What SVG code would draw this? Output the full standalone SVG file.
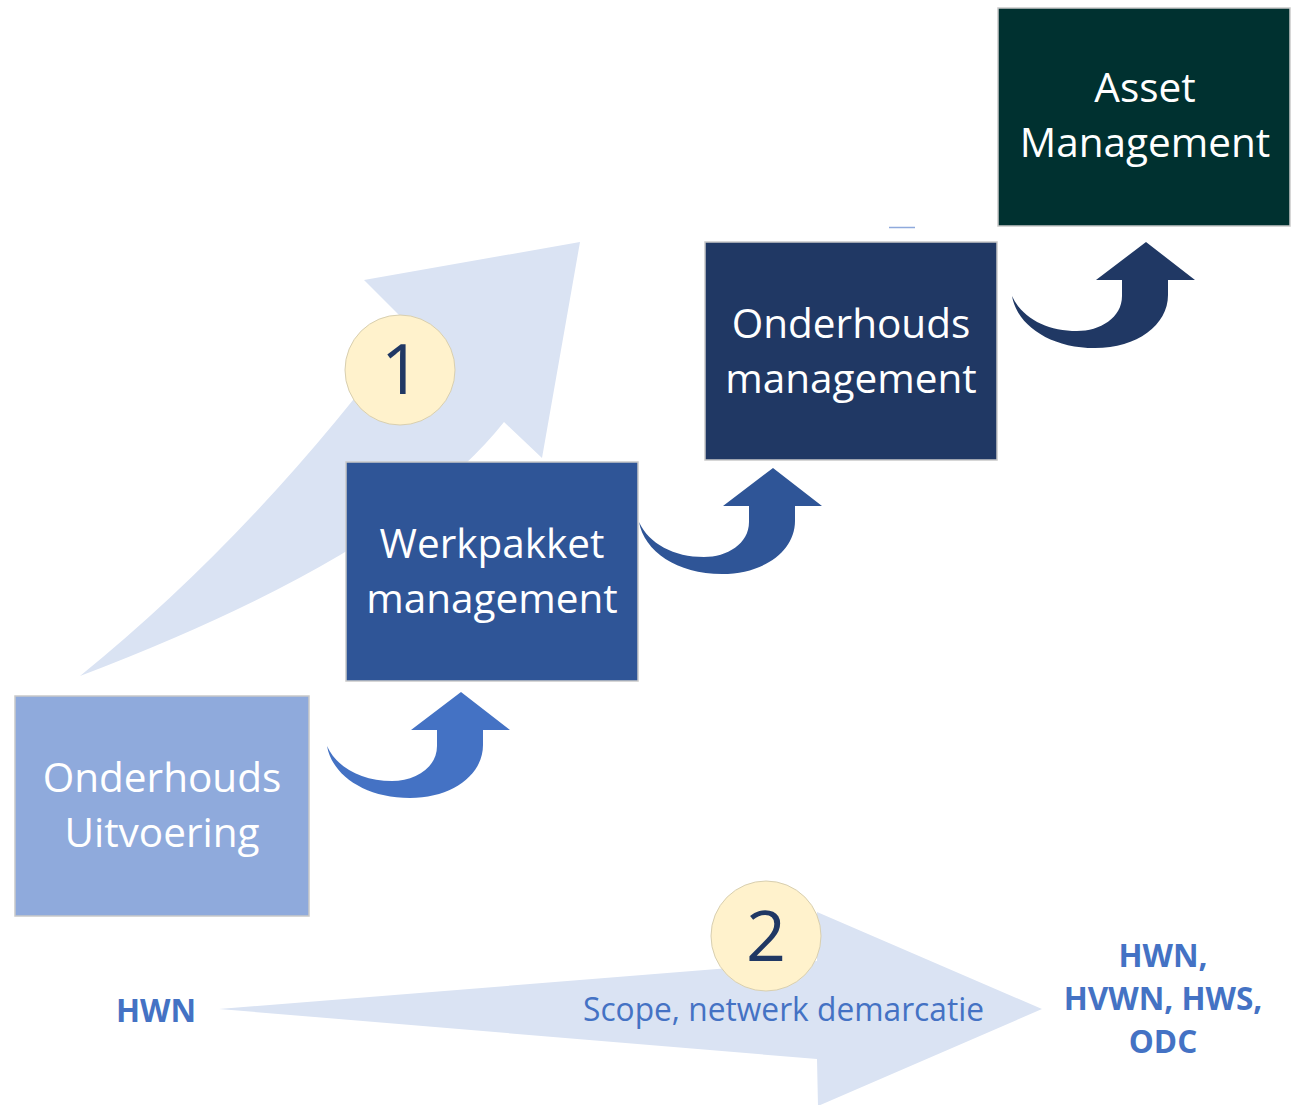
<svg xmlns="http://www.w3.org/2000/svg" xmlns:xlink="http://www.w3.org/1999/xlink" width="1293" height="1105" viewBox="0 0 1293 1105">
<style>
.box{stroke:#c9c9c9;stroke-width:1.5}
.bt{font-family:"Open Sans","Noto Sans",sans-serif;font-size:40.5px;fill:#ffffff;text-anchor:middle}
.num{font-family:"Open Sans","Noto Sans",sans-serif;font-size:70px;fill:#203864;text-anchor:middle}
.circ{fill:#FFF2CC;stroke:#d8cfb0;stroke-width:1}
.big{fill:#DAE3F3}
.lbl{font-family:"Open Sans","Noto Sans",sans-serif;font-weight:bold;font-size:31.5px;fill:#4472C4;text-anchor:middle}
</style>
<defs>
<path id="curvArrow" d="M327,746 C332,775 365,798 410,798 C452,798 483,775 483,745 L483,730 L510,730 L461,692 L411,730 L437,730 L437,746 C437,768 415,781 392,781 C362,781 337,768 327,746 Z"/>
</defs>
<rect width="1293" height="1105" fill="#ffffff"/>

<g id="arrow-1">
<path class="big" d="M80,676 Q260,530 410,326 L364,280 L580,242 L542,458 L504,422 Q400,554 80,676 Z"/>
</g>
<g id="badge-1">
<circle class="circ" cx="400" cy="370" r="55"/>
<text class="num" x="401" y="394">1</text>
</g>

<g id="arrow-2">
<path class="big" d="M219,1009 L817,961 L817,912 L1042,1009 L818,1106 L817,1059 Z"/>
<text x="583" y="1021" textLength="401" lengthAdjust="spacingAndGlyphs" style="font-family:'Open Sans','Noto Sans',sans-serif;font-size:32px;fill:#4472C4">Scope, netwerk demarcatie</text>
</g>
<g id="badge-2">
<circle class="circ" cx="766" cy="936" r="55"/>
<text class="num" x="766" y="961">2</text>
</g>

<g id="connectors">
<use xlink:href="#curvArrow" href="#curvArrow" fill="#4472C4"/>
<use xlink:href="#curvArrow" href="#curvArrow" fill="#2F5597" transform="translate(312,-224)"/>
<use xlink:href="#curvArrow" href="#curvArrow" fill="#203864" transform="translate(685,-450)"/>
<line x1="889" y1="227.5" x2="915" y2="227.5" stroke="#8FAADC" stroke-width="1.5"/>
</g>

<g id="node-uitvoering">
<rect class="box" x="15" y="696" width="294" height="220" fill="#8FAADC"/>
<text class="bt" x="162" y="792">Onderhouds</text>
<text class="bt" x="162" y="847">Uitvoering</text>
</g>
<g id="node-werkpakket">
<rect class="box" x="346" y="462" width="292" height="219" fill="#2F5597"/>
<text class="bt" x="492" y="558">Werkpakket</text>
<text class="bt" x="492" y="613">management</text>
</g>
<g id="node-onderhoudsmgmt">
<rect class="box" x="705" y="242" width="292" height="218" fill="#203864"/>
<text class="bt" x="851" y="338">Onderhouds</text>
<text class="bt" x="851" y="393">management</text>
</g>
<g id="node-asset">
<rect class="box" x="998" y="8" width="292" height="218" fill="#003130"/>
<text class="bt" x="1145" y="102">Asset</text>
<text class="bt" x="1145" y="157">Management</text>
</g>

<g id="label-hwn">
<text class="lbl" x="156" y="1022">HWN</text>
</g>
<g id="label-scope">
<text class="lbl" x="1163" y="967">HWN,</text>
<text class="lbl" x="1163" y="1010">HVWN, HWS,</text>
<text class="lbl" x="1163" y="1053">ODC</text>
</g>
</svg>
